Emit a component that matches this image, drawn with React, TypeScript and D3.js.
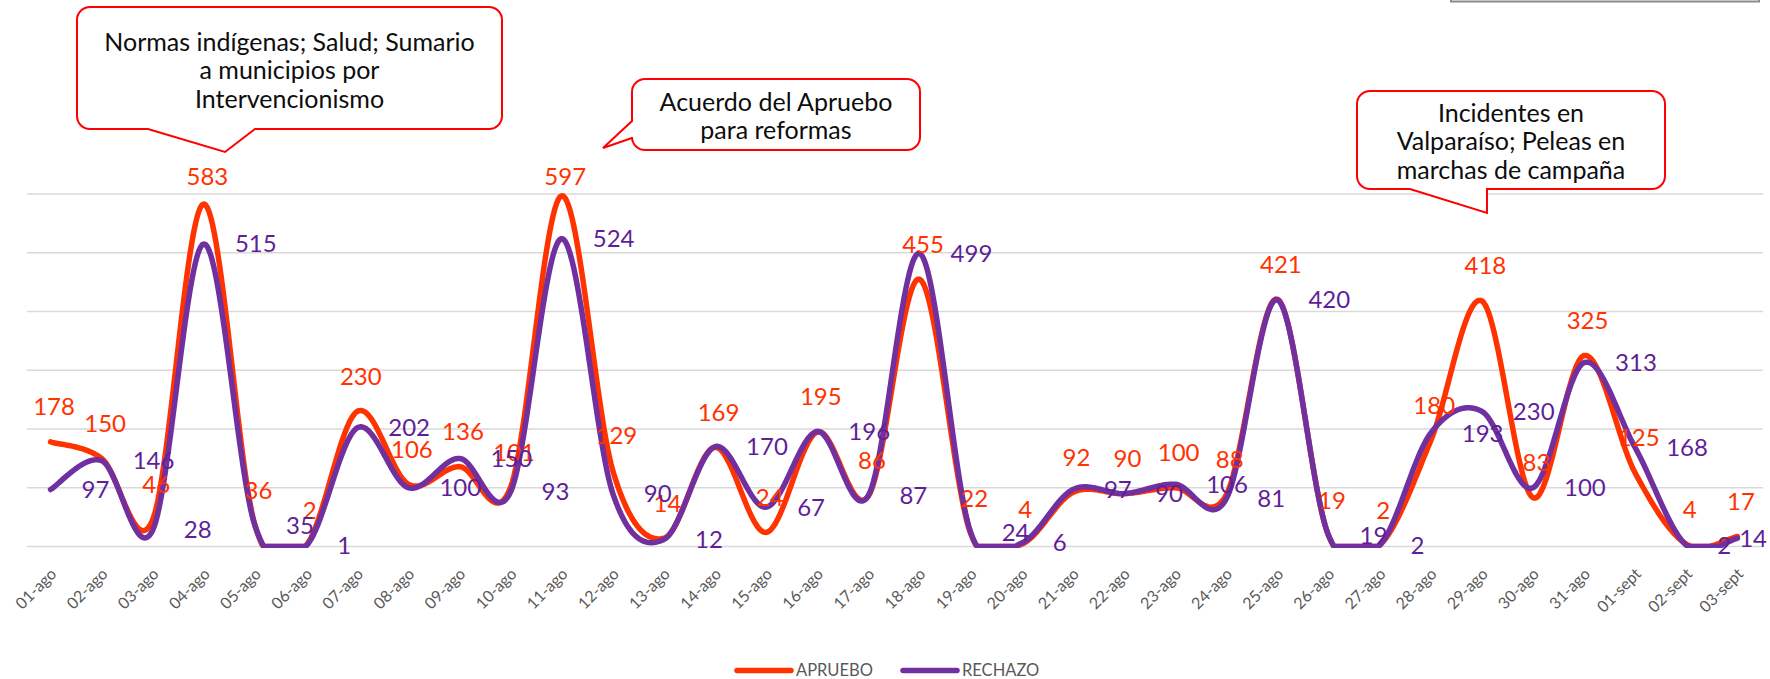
import React from 'react';
import * as d3 from 'd3';

const dates = [
  '01-ago', '02-ago', '03-ago', '04-ago', '05-ago', '06-ago', '07-ago', '08-ago', '09-ago', '10-ago',
  '11-ago', '12-ago', '13-ago', '14-ago', '15-ago', '16-ago', '17-ago', '18-ago', '19-ago', '20-ago',
  '21-ago', '22-ago', '23-ago', '24-ago', '25-ago', '26-ago', '27-ago', '28-ago', '29-ago', '30-ago',
  '31-ago', '01-sept', '02-sept', '03-sept'
];

const apruebo = [
  178, 150, 46, 583, 36, 2, 230, 106, 136, 101, 597, 129, 14, 169, 24, 195, 86,
  455, 22, 4, 92, 90, 100, 88, 421, 19, 2, 180, 418, 83, 325, 125, 4, 17
];

const rechazo = [
  97, 146, 28, 515, 35, 1, 202, 100, 150, 93, 524, 90, 12, 170, 67, 196, 87,
  499, 24, 6, 97, 90, 106, 81, 420, 19, 2, 193, 230, 100, 313, 168, 2, 14
];

const yTicks = [0, 100, 200, 300, 400, 500, 600];

const seriesNames = ['APRUEBO', 'RECHAZO'];

// callout boxes: [x0, y0, x1, y1], tail edge + base points + tip
const callouts = [
  {
    lines: ['Normas indígenas; Salud; Sumario', 'a municipios por', 'Intervencionismo'],
    box: [77, 7, 502, 129], edge: 'bottom', base: [148, 255], tip: [225, 152], textY: 42
  },
  {
    lines: ['Acuerdo del Apruebo', 'para reformas'],
    box: [632, 79, 920, 150], edge: 'left', base: [121, 138], tip: [603, 148], textY: 102
  },
  {
    lines: ['Incidentes en', 'Valparaíso; Peleas en', 'marchas de campaña'],
    box: [1357, 91, 1665, 189], edge: 'bottom', base: [1410, 1487], tip: [1487, 213], textY: 113
  }
];

const W = 1770;
const H = 679;
const ORANGE = '#FF3300';
const PURPLE = '#7030A0';
const PURPLE_TXT = '#5F1F98';
const FONT = 'Lato, "Open Sans", sans-serif';

function calloutPath(c: any) {
  const [x0, y0, x1, y1] = c.box;
  const r = 13;
  const p = d3.path();
  p.moveTo(x0 + r, y0);
  p.lineTo(x1 - r, y0);
  p.arcTo(x1, y0, x1, y0 + r, r);
  p.lineTo(x1, y1 - r);
  p.arcTo(x1, y1, x1 - r, y1, r);
  if (c.edge === 'bottom') {
    p.lineTo(c.base[1], y1);
    p.lineTo(c.tip[0], c.tip[1]);
    p.lineTo(c.base[0], y1);
  }
  p.lineTo(x0 + r, y1);
  p.arcTo(x0, y1, x0, y1 - r, r);
  if (c.edge === 'left') {
    p.lineTo(x0, c.base[1]);
    p.lineTo(c.tip[0], c.tip[1]);
    p.lineTo(x0, c.base[0]);
  }
  p.lineTo(x0, y0 + r);
  p.arcTo(x0, y0, x0 + r, y0, r);
  p.closePath();
  return p.toString();
}

// smoothed line like the spreadsheet one (catmull-rom), flattened onto the axis where it dips below it
function smoothPoints(pts: [number, number][], floorY: number) {
  const n = pts.length;
  const out: [number, number][] = [];
  const tan = pts.map((_, i) => {
    const a = pts[Math.max(0, i - 1)];
    const b = pts[Math.min(n - 1, i + 1)];
    return [(b[0] - a[0]) / 2, (b[1] - a[1]) / 2];
  });
  for (let i = 0; i < n - 1; i++) {
    const p0 = pts[i], p3 = pts[i + 1];
    const p1 = [p0[0] + tan[i][0] / 3, p0[1] + tan[i][1] / 3];
    const p2 = [p3[0] - tan[i + 1][0] / 3, p3[1] - tan[i + 1][1] / 3];
    const steps = 30;
    for (let s = i === 0 ? 0 : 1; s <= steps; s++) {
      const t = s / steps, u = 1 - t;
      const bx = u * u * u * p0[0] + 3 * u * u * t * p1[0] + 3 * u * t * t * p2[0] + t * t * t * p3[0];
      const by = u * u * u * p0[1] + 3 * u * u * t * p1[1] + 3 * u * t * t * p2[1] + t * t * t * p3[1];
      out.push([bx, Math.min(by, floorY)]);
    }
  }
  return out;
}

export default function App() {
  const plotLeft = 25;
  const plotRight = 1763;
  const x = d3.scaleBand<string>().domain(dates).range([plotLeft, plotRight]);
  const cx = (d: string) => (x(d) ?? 0) + x.bandwidth() / 2;
  const y = d3.scaleLinear().domain([0, 600]).range([546.5, 194]);

  const line = d3.line<[number, number]>().x(d => d[0]).y(d => d[1]);
  const seriesPath = (vals: number[]) =>
    line(smoothPoints(vals.map((v, i) => [cx(dates[i]), y(v)] as [number, number]), y(0))) ?? '';

  const labelSize = 24;

  return (
    <div style={{ position: 'absolute', left: 0, top: 0 }}>
      <svg width={W} height={H} style={{ display: 'block', background: '#fff', fontFamily: FONT }}>
        <defs>
          <clipPath id="plot-clip">
            <rect x={0} y={0} width={W} height={548} />
          </clipPath>
        </defs>

        {/* border of the element above, cut off */}
        <rect x={1451} y={-20} width={308} height={21.5} fill="none" stroke="#8c8c8c" strokeWidth={2} />

        {yTicks.map(t => (
          <line key={t} x1={27} x2={1763} y1={y(t)} y2={y(t)} stroke="#D9D9D9" strokeWidth={1.5} />
        ))}

        <g clipPath="url(#plot-clip)">
          <path d={seriesPath(apruebo)} fill="none" stroke={ORANGE} strokeWidth={5.5}
            strokeLinecap="round" strokeLinejoin="round" />
          <path d={seriesPath(rechazo)} fill="none" stroke={PURPLE} strokeWidth={5.5}
            strokeLinecap="round" strokeLinejoin="round" />
        </g>

        {apruebo.map((v, i) => (
          <text key={'a' + i} x={cx(dates[i]) + 3.5} y={Math.max(y(v) - 35, 177)} dy="0.35em"
            textAnchor="middle" fontSize={labelSize} fill={ORANGE}>{v}</text>
        ))}
        {rechazo.map((v, i) => {
          const w = String(v).length * 0.58 * labelSize;
          const start = Math.min(cx(dates[i]) + 31, 1767 - w);
          return (
            <text key={'r' + i} x={start} y={y(v)} dy="0.35em"
              fontSize={labelSize} fill={PURPLE_TXT}>{v}</text>
          );
        })}

        {dates.map(d => (
          <text key={d} transform={`translate(${cx(d) + 3},${571}) rotate(-45)`} dy="0.35em"
            textAnchor="end" fontSize={16} fill="#595959">{d}</text>
        ))}

        {callouts.map((c, k) => (
          <g key={k}>
            <path d={calloutPath(c)} fill="#fff" stroke="#FF0000" strokeWidth={2} />
            {c.lines.map((t, j) => (
              <text key={j} x={(c.box[0] + c.box[2]) / 2} y={c.textY + j * 28.5} dy="0.35em"
                textAnchor="middle" fontSize={25} fill="#0d0d0d">{t}</text>
            ))}
          </g>
        ))}

        {/* legend */}
        {seriesNames.map((name, k) => {
          const lx = k === 0 ? 737 : 903;
          return (
            <g key={name}>
              <line x1={lx} x2={lx + 54} y1={670.5} y2={670.5} stroke={k === 0 ? ORANGE : PURPLE}
                strokeWidth={5.5} strokeLinecap="round" />
              <text x={lx + 59} y={670.5} dy="0.35em" fontSize={16.5} fill="#595959">{name}</text>
            </g>
          );
        })}
      </svg>
    </div>
  );
}
